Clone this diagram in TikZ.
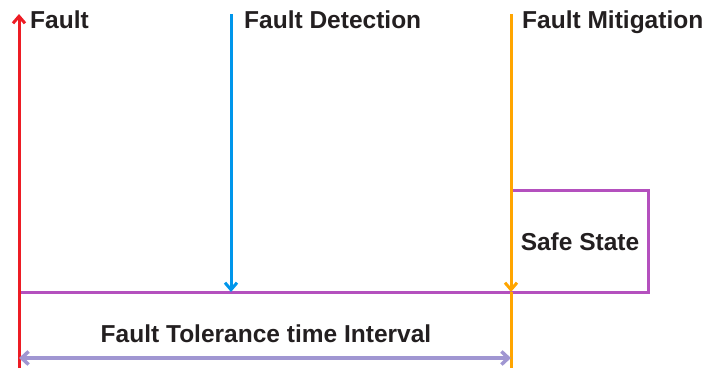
\documentclass[tikz,border=0pt]{standalone}
\usepackage{fontspec}
\setmainfont{Liberation Sans}
\usetikzlibrary{arrows.meta}

\definecolor{faultred}{RGB}{237,28,36}
\definecolor{detblue}{RGB}{0,150,235}
\definecolor{mitorange}{RGB}{255,165,0}
\definecolor{safepurple}{RGB}{180,80,190}
\definecolor{ftlilac}{RGB}{160,150,210}
\definecolor{labelgray}{RGB}{35,31,32}

\begin{document}
\begin{tikzpicture}[x=1bp,y=-1bp,
	label/.style={inner sep=0pt, text=labelgray,
		font=\fontsize{24.6}{28}\selectfont\bfseries},
	event/.style={line width=3bp, -{Straight Barb[length=7bp,width=12bp]}},
	]
	\useasboundingbox (0,0) rectangle (717,369);

	% time marks
	\coordinate (f0) at (19,368);   \coordinate (f1) at (19,14);
	\coordinate (d0) at (231,14);   \coordinate (d1) at (231,292);
	\coordinate (m0) at (511,14);   \coordinate (m1) at (511,292);
	\coordinate (m2) at (511,368);
	\coordinate (s0) at (648,190);  \coordinate (s1) at (648,292);
	\coordinate (t0) at (19,358);   \coordinate (t1) at (511,358);

	% safe state box and timeline
	\draw[safepurple, line width=3bp] (f0 |- m1) -- (s1) -- (s0) -- (m1 |- s0);

	\draw[event, faultred] (f0) -- (f1);
	\draw[event, detblue] (d0) -- (d1);
	\draw[mitorange, line width=3bp] (m1) -- (m2);
	\draw[event, mitorange] (m0) -- (m1);

	\draw[ftlilac, line width=3.5bp,
		{Straight Barb[length=7bp,width=13bp]}-{Straight Barb[length=7bp,width=13bp]}]
		(t0) -- (t1);

	\node[label, anchor=base west] (fault) at (30,28) {Fault};
	\node[label, anchor=base west] (detect) at (244,28) {Fault Detection};
	\node[label, anchor=base west] (mitig) at (522,28) {Fault Mitigation};
	\node[label, anchor=base] (safe) at (580,250) {Safe State};
	\node[label, anchor=base] (ftti) at (266,342) {Fault Tolerance time Interval};
\end{tikzpicture}
\end{document}
